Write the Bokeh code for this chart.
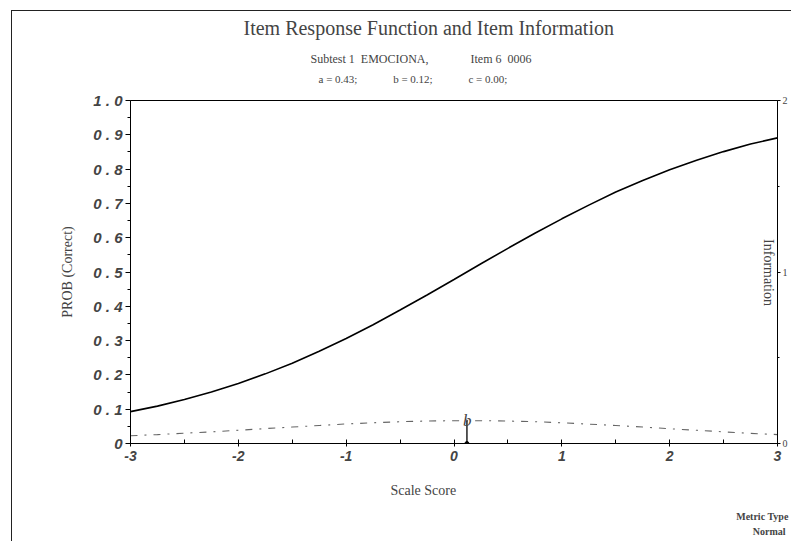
from bokeh.plotting import figure
from bokeh.models import Range1d, LinearAxis, Label, FixedTicker, Title
from bokeh.embed import file_html
from bokeh.resources import INLINE

# ---- data ----
theta = [-3.0, -2.75, -2.5, -2.25, -2.0, -1.75, -1.5, -1.25, -1.0, -0.75, -0.5, -0.25,
         0.0, 0.25, 0.5, 0.75, 1.0, 1.25, 1.5, 1.75, 2.0, 2.25, 2.5, 2.75, 3.0]
prob = [0.093, 0.109, 0.128, 0.150, 0.175, 0.203, 0.234, 0.269, 0.306, 0.346, 0.389, 0.433,
        0.478, 0.524, 0.569, 0.613, 0.655, 0.695, 0.733, 0.767, 0.798, 0.826, 0.851, 0.873, 0.891]
info = [0.045, 0.052, 0.060, 0.068, 0.077, 0.087, 0.096, 0.105, 0.114, 0.121, 0.127, 0.131,
        0.133, 0.133, 0.131, 0.127, 0.121, 0.113, 0.105, 0.096, 0.086, 0.077, 0.068, 0.059, 0.052]
b_param = 0.12
info_at_b = 0.134

x_ticks = [-3, -2, -1, 0, 1, 2, 3]
x_tick_labels = ["-3", "-2", "-1", "0", "1", "2", "3"]
y_ticks = [0, 0.1, 0.2, 0.3, 0.4, 0.5, 0.6, 0.7, 0.8, 0.9, 1.0]
y_tick_labels = ["0", "0 . 1", "0 . 2", "0 . 3", "0 . 4", "0 . 5", "0 . 6", "0 . 7", "0 . 8", "0 . 9", "1 . 0"]
info_ticks = [0, 1, 2]
info_tick_labels = ["0", "1", "2"]

title = "Item Response Function and Item Information"
subtitle_parts = ["Subtest 1\u00a0\u00a0EMOCIONA,", "Item 6\u00a0\u00a00006"]
params = ["a = 0.43;", "b = 0.12;", "c = 0.00;"]
x_label = "Scale Score"
y_label = "PROB (Correct)"
info_label = "Information"
metric_lines = ["Metric Type", "Normal"]

NB = "\u00a0"
W, H = 790, 540
FL, FT, FB = 130, 100, 443   # frame left / top / bottom on the canvas
SERIF = "Liberation Serif"
SANS = "Liberation Sans"

p = figure(width=W, height=H, x_range=Range1d(-3, 3), y_range=Range1d(0, 1),
           output_backend="svg", toolbar_location=None,
           min_border_left=FL, min_border_right=12, min_border_top=FT,
           min_border_bottom=H - FB)
p.extra_y_ranges = {"info": Range1d(0, 2)}
p.xgrid.visible = False
p.ygrid.visible = False
p.outline_line_color = "black"
p.outline_line_width = 1
p.background_fill_color = "white"
p.border_fill_color = "white"
p.stylesheets = [":host::after { content: ''; position: absolute; left: 11px; top: 10px; "
                 "width: 779px; height: 530px; border-top: 1px solid #222; "
                 "border-left: 1px solid #222; pointer-events: none; }"]

xl = p.below[0]
yl = p.left[0]

xl.ticker = FixedTicker(ticks=x_ticks, minor_ticks=[-2.5, -1.5, -0.5, 0.5, 1.5, 2.5])
xl.major_label_overrides = {t: l for t, l in zip(x_ticks, x_tick_labels)}
xl.major_label_text_font = SANS
xl.major_label_text_font_style = "bold italic"
xl.major_label_text_font_size = "14px"
xl.major_tick_in = 4
xl.major_tick_out = 3
xl.minor_tick_in = 4
xl.minor_tick_out = 0
xl.major_label_standoff = 4
xl.axis_line_color = "black"

yl.ticker = FixedTicker(ticks=y_ticks, minor_ticks=[0.05 + 0.1 * i for i in range(10)])
yl.major_label_overrides = {t: l for t, l in zip(y_ticks, y_tick_labels)}
yl.major_label_text_font = SANS
yl.major_label_text_font_style = "bold italic"
yl.major_label_text_font_size = "15px"
yl.major_tick_in = 0
yl.major_tick_out = 5
yl.minor_tick_in = 0
yl.minor_tick_out = 3
yl.major_label_standoff = 3
yl.axis_label = y_label
yl.axis_label_text_font = SERIF
yl.axis_label_text_font_style = "normal"
yl.axis_label_text_font_size = "14px"
yl.axis_label_standoff = 15

yr = LinearAxis(y_range_name="info", ticker=FixedTicker(ticks=info_ticks, minor_ticks=[0.5, 1.5]))
yr.major_label_overrides = {t: l for t, l in zip(info_ticks, info_tick_labels)}
yr.major_label_text_font = SERIF
yr.major_label_text_font_size = "10px"
yr.major_tick_in = 0
yr.major_tick_out = 3
yr.minor_tick_in = 0
yr.minor_tick_out = 2
yr.major_label_standoff = 2
p.add_layout(yr, "right")


def side_text(side, text, size, style="normal", align="left", offset=0, standoff=2):
    p.add_layout(Title(text=text, align=align, offset=offset, text_font=SERIF,
                       text_font_size=size, text_font_style=style, standoff=standoff), side)


# above the frame (innermost first)
side_text("above", NB, "1px", standoff=12)                         # spacer
side_text("above", (NB * 13).join(params), "11px", offset=188, standoff=2)
side_text("above", (NB * 14).join(subtitle_parts), "12px", offset=180, standoff=8)
side_text("above", title, "20px", offset=113, standoff=14)

# below the x axis (innermost first)
side_text("below", NB, "1px", standoff=13)                         # spacer
side_text("below", x_label, "14px", offset=260, standoff=2)
side_text("below", NB, "1px", standoff=6)                          # spacer
side_text("below", metric_lines[0], "10px", style="bold", align="right", offset=-11, standoff=2)
side_text("below", metric_lines[1], "10px", style="bold", align="right", offset=-8, standoff=2)

# curves
p.line(theta, prob, line_color="black", line_width=1.6)
p.line(theta, info, y_range_name="info", line_color="#666666", line_width=1.1,
       line_dash="7 7 2 7")
p.segment(x0=[b_param], y0=[0], x1=[b_param], y1=[info_at_b], y_range_name="info",
          line_color="black", line_width=1.3)
p.scatter([b_param], [0], y_range_name="info", size=4, color="black")
p.add_layout(Label(x=b_param, y=info_at_b, y_range_name="info", text="b",
                   text_font=SERIF, text_font_style="italic", text_font_size="17px",
                   text_align="left", text_baseline="middle", x_offset=-4))

# "Information" sits just inside the right edge of the frame
p.add_layout(Label(x=768 - FL, y=FB - 272, x_units="screen", y_units="screen",
                   text=info_label, text_font=SERIF, text_font_size="14px",
                   text_align="center", text_baseline="middle", angle=-1.5708))

open("out.html", "w").write(file_html(p, INLINE))
